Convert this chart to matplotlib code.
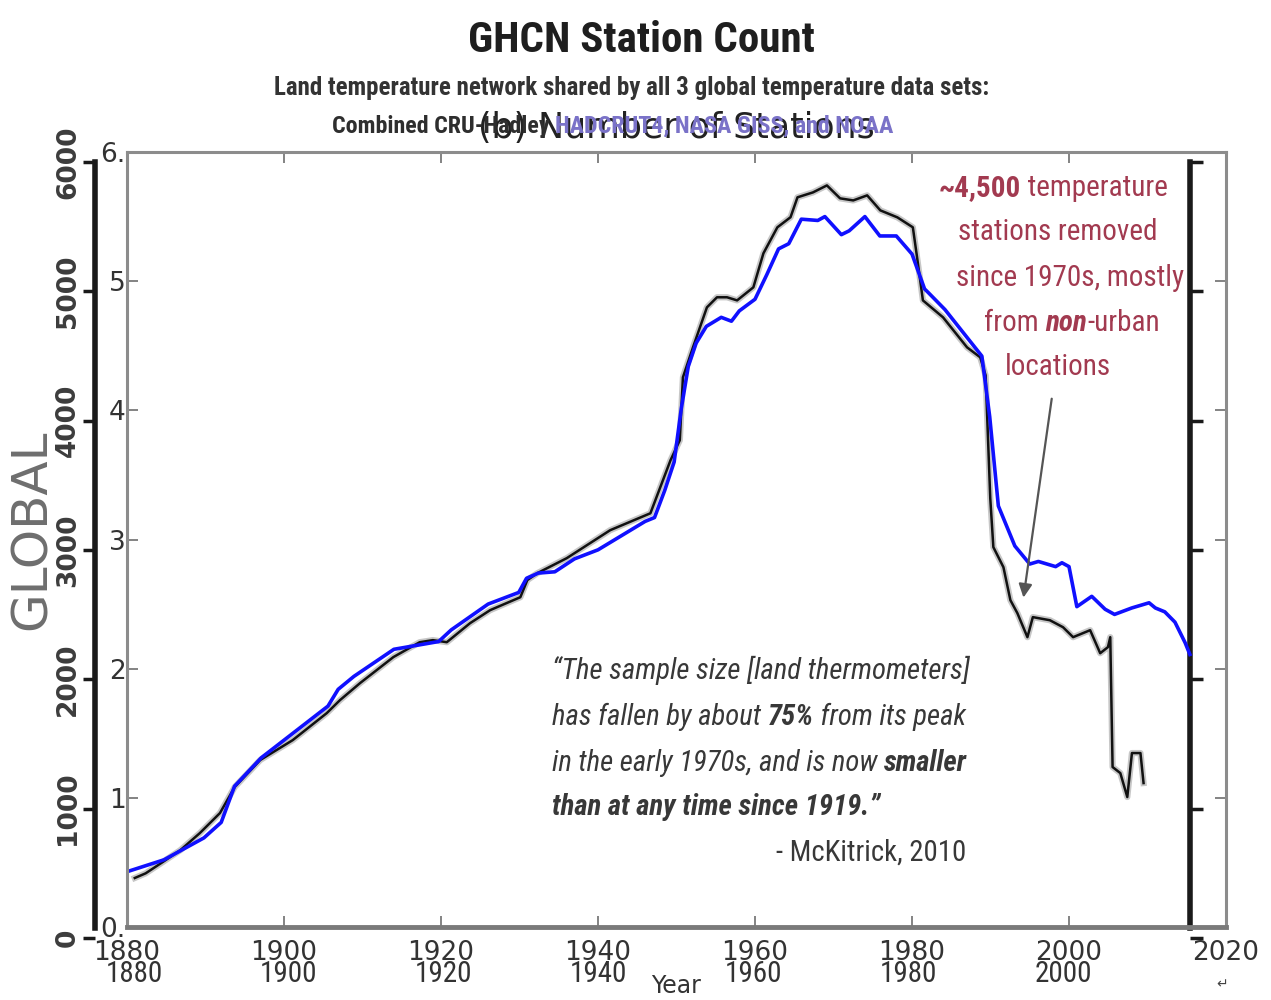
import matplotlib
matplotlib.use("Agg")
import matplotlib.pyplot as plt
from matplotlib import font_manager as fm
from matplotlib.font_manager import FontProperties

# ---------------- data ----------------
# black series: original GHCN station count (left "GLOBAL" axis, 0-6000)
black_years = [1880.1, 1881.5, 1883.7, 1886.0, 1888.5, 1891.1, 1893.0, 1896.3, 1900.5, 1904.9,
               1906.6, 1909.2, 1913.5, 1916.9, 1918.6, 1920.4, 1923.4, 1926.0, 1929.9, 1930.8,
               1932.1, 1935.9, 1941.5, 1946.7, 1949.3, 1950.5, 1950.9, 1952.2, 1954.0, 1955.3,
               1956.6, 1957.9, 1960.0, 1961.3, 1963.1, 1964.8, 1965.7, 1967.7, 1969.5, 1971.2,
               1972.9, 1974.7, 1976.4, 1978.6, 1980.6, 1981.2, 1981.9, 1984.5, 1987.6, 1989.3,
               1990.0, 1990.6, 1991.0, 1992.3, 1993.2, 1994.1, 1995.4, 1996.1, 1998.3, 2000.0,
               2001.3, 2003.5, 2004.8, 2005.8, 2006.1, 2006.4, 2007.4, 2008.3, 2008.9, 2010.0,
               2010.4]
black_counts = [464, 500, 587, 680, 811, 966, 1167, 1376, 1530, 1739,
                1839, 1971, 2172, 2287, 2303, 2287, 2434, 2535, 2635, 2767,
                2821, 2937, 3153, 3284, 3694, 3849, 4335, 4567, 4876, 4954,
                4954, 4930, 5031, 5294, 5495, 5573, 5727, 5765, 5819, 5719,
                5703, 5742, 5626, 5572, 5495, 5240, 4930, 4799, 4567, 4490,
                4350, 3400, 3022, 2867, 2612, 2512, 2326, 2481, 2457, 2403,
                2326, 2380, 2202, 2249, 2326, 1322, 1275, 1090, 1430, 1430,
                1198]

# blue series: number of stations (thousands), overlay panel (b)
blue_years = [1880.1, 1884.7, 1889.8, 1892.0, 1893.7, 1897.1, 1900.5, 1905.6, 1906.9, 1908.9,
              1914.0, 1919.7, 1921.3, 1926.0, 1929.9, 1930.9, 1932.4, 1934.5, 1937.0, 1940.0,
              1943.0, 1946.0, 1947.2, 1948.5, 1949.7, 1950.6, 1951.5, 1952.5, 1953.8, 1955.7,
              1957.0, 1958.0, 1960.0, 1961.5, 1963.0, 1964.3, 1965.9, 1968.0, 1968.9, 1971.0,
              1972.0, 1974.0, 1975.9, 1978.0, 1980.0, 1981.6, 1982.1, 1984.2, 1987.2, 1988.9,
              1989.9, 1991.0, 1993.1, 1995.0, 1996.1, 1998.3, 1999.1, 2000.0, 2001.0, 2002.9,
              2004.6, 2005.8, 2008.0, 2010.2, 2011.0, 2012.2, 2013.5, 2014.8, 2015.4]
blue_thousands = [0.43, 0.52, 0.69, 0.81, 1.09, 1.31, 1.47, 1.71, 1.84, 1.94,
                  2.15, 2.21, 2.30, 2.50, 2.59, 2.70, 2.74, 2.75, 2.85, 2.92,
                  3.03, 3.14, 3.17, 3.38, 3.60, 4.01, 4.34, 4.52, 4.65, 4.72,
                  4.69, 4.77, 4.86, 5.05, 5.25, 5.29, 5.48, 5.47, 5.50, 5.36,
                  5.39, 5.50, 5.35, 5.35, 5.21, 4.94, 4.91, 4.78, 4.55, 4.42,
                  3.95, 3.26, 2.95, 2.81, 2.83, 2.79, 2.82, 2.79, 2.48, 2.56,
                  2.46, 2.42, 2.47, 2.51, 2.47, 2.44, 2.36, 2.20, 2.11]

outer_yticks = [0, 1000, 2000, 3000, 4000, 5000, 6000]
outer_xticks = [1880, 1900, 1920, 1940, 1960, 1980, 2000]
inner_xticks = [1880, 1900, 1920, 1940, 1960, 1980, 2000, 2020]
inner_yticks = [0, 1, 2, 3, 4, 5, 6]
inner_ylabels = ["0.", "1", "2", "3", "4", "5", "6."]

# ---------------- fonts: look for a condensed face ----------------
plt.rcParams["font.family"] = ["DejaVu Sans"]
cond = {}
pref = ["Roboto Condensed", "Open Sans Condensed", "Liberation Sans Narrow", "DejaVu Sans Condensed"]
for fam in pref:
    for f in fm.fontManager.ttflist:
        is_fam = (f.name == fam) or (fam == "DejaVu Sans Condensed" and f.name == "DejaVu Sans"
                                     and "Condensed" in f.fname)
        if not is_fam:
            continue
        w = f.weight if isinstance(f.weight, int) else (700 if "bold" in str(f.weight) else 400)
        bold = w >= 600
        ital = f.style in ("italic", "oblique")
        if w in (300, 500, 800, 900, 100, 200):
            continue
        cond.setdefault((bold, ital), f.fname)
    if (False, False) in cond:
        break
    cond = {}

if cond:
    K = 1.0

    def FP(bold=False, ital=False, size=12):
        key = (bold, ital)
        for k in [key, (bold, False), (False, ital), (False, False)]:
            if k in cond:
                return FontProperties(fname=cond[k], size=size)
else:
    K = 0.82

    def FP(bold=False, ital=False, size=12):
        return FontProperties(family="Liberation Sans", weight="bold" if bold else "normal",
                              style="italic" if ital else "normal", size=size)

W, H = 1271, 1000
fig = plt.figure(figsize=(W / 100, H / 100), dpi=100)
fig.patch.set_facecolor("white")


def rect(l, t, r, b):
    return [l / W, 1 - b / H, (r - l) / W, (b - t) / H]


def fx(x):
    return x / W


def fy(y):
    return 1 - y / H


# ---------------- outer (original GHCN) axes ----------------
ax0 = fig.add_axes(rect(95, 162, 1190, 938))
ax0.set_xlim(1874.96, 2016.4)
ax0.set_ylim(0, 6000)
ax0.plot(black_years, black_counts, color="#9a9a9a", lw=4.5, alpha=0.55, solid_joinstyle="round")
ax0.plot(black_years, black_counts, color="#111111", lw=1.8, solid_joinstyle="round")
for s in ["top", "bottom"]:
    ax0.spines[s].set_visible(False)
for s in ["left", "right"]:
    ax0.spines[s].set_linewidth(4)
    ax0.spines[s].set_color("#1a1a1a")
    ax0.spines[s].set_bounds(80, 6000)
ax0.set_yticks(outer_yticks)
ax0.set_yticklabels([str(v) for v in outer_yticks], rotation=90, va="center",
                    fontsize=19, fontweight="bold", color="#3c3c3c")
ax0.tick_params(axis="y", direction="out", length=9, width=2.5, color="#1a1a1a",
                right=True, labelright=False, pad=1)
ax0.set_xticks(outer_xticks)
ax0.set_xticklabels([str(v) for v in outer_xticks], fontproperties=FP(size=21 * K), color="#333333")
ax0.tick_params(axis="x", length=0, pad=16)
ax0.set_facecolor("white")

# ---------------- inner (overlay) axes ----------------
ax1 = fig.add_axes(rect(127, 152, 1226, 927))
ax1.set_facecolor("none")
ax1.set_xlim(1880, 2020)
ax1.set_ylim(0, 6)
ax1.plot(blue_years, blue_thousands, color="#1010ff", lw=2.6, solid_joinstyle="round")
for s in ax1.spines.values():
    s.set_color("#8c8c8c")
    s.set_linewidth(2.2)
ax1.spines["bottom"].set_linewidth(3.5)
ax1.spines["bottom"].set_color("#7a7a7a")
ax1.set_xticks(inner_xticks)
ax1.set_xticklabels([str(v) for v in inner_xticks], fontsize=19, color="#333333")
ax1.set_yticks(inner_yticks)
ax1.set_yticklabels(inner_ylabels, fontsize=19, color="#333333")
ax1.tick_params(direction="in", length=8, width=1.3, color="#7a7a7a",
                top=True, right=True)
ax1.tick_params(axis="y", pad=1)
ax1.tick_params(axis="x", pad=9)
ax1.set_xlabel("Year", fontsize=17, color="#333333", labelpad=6)
ax1.set_title("(b) Number of Stations", fontsize=25, color="#222222", pad=10)

# arrow pointing at the post-1990 drop
ax1.annotate("", xy=(1994.2, 2.55), xytext=(1997.8, 4.09),
             arrowprops=dict(arrowstyle="-|>", color="#555555", lw=1.6,
                             mutation_scale=20, shrinkA=0, shrinkB=0))

# ---------------- header text ----------------
fig.text(fx(641), fy(40), "GHCN Station Count", ha="center", va="center",
         fontproperties=FP(bold=True, size=31 if K == 1.0 else 26), color="#1e1e1e")
fig.text(fx(632), fy(88), "Land temperature network shared by all 3 global temperature data sets:",
         ha="center", va="center", fontproperties=FP(bold=True, size=18 * K), color="#333333")

fig.text(fx(32), fy(530), "GLOBAL", rotation=90, ha="center", va="center",
         fontsize=36, color="#6e6e6e")
fig.text(fx(1222), fy(984), "\u21b5", ha="center", va="center", fontsize=10, color="#444444")

renderer = fig.canvas.get_renderer()


def rich_line(parts, x, y, ha="left", size=20, color="#333333", zorder=3):
    """Place several differently styled pieces of text side by side (pixel coords)."""
    texts = []
    for s, (b, i), c in parts:
        t = fig.text(0, 0, s, fontproperties=FP(b, i, size * K), color=c or color,
                     va="baseline", zorder=zorder)
        texts.append(t)
    widths = [t.get_window_extent(renderer).width for t in texts]
    total = sum(widths)
    if ha == "center":
        x0 = x - total / 2
    elif ha == "right":
        x0 = x - total
    else:
        x0 = x
    for t, w in zip(texts, widths):
        t.set_position((fx(x0), fy(y)))
        x0 += w
    return texts


N = (False, False)
B = (True, False)
I = (False, True)
BI = (True, True)

# third header line (partly hidden under the panel title)
rich_line([("Combined CRU-Hadley ", B, "#2e2e2e"), ("HADCRUT4, NASA GISS, and NOAA", B, "#7a72c8")],
          613, 133, ha="center", size=17.3, zorder=1)

# red annotation
red = "#a23a50"
rs = 21
rich_line([("~4,500", B, None), (" temperature", N, None)], 1053, 196, ha="center", size=rs, color=red)
rich_line([("stations removed", N, None)], 1058, 240, ha="center", size=rs, color=red)
rich_line([("since 1970s, mostly", N, None)], 1070, 286, ha="center", size=rs, color=red)
rich_line([("from ", N, None), ("non", BI, None), ("-urban", N, None)], 1072, 331, ha="center",
          size=rs, color=red)
rich_line([("locations", N, None)], 1058, 375, ha="center", size=rs, color=red)

# quote
qc = "#383838"
qs = 20.7
rich_line([("\u201cThe sample size [land thermometers]", I, None)], 552, 679, size=qs, color=qc)
rich_line([("has fallen by about ", I, None), ("75%", BI, None), (" from its peak", I, None)],
          552, 725, size=qs, color=qc)
rich_line([("in the early 1970s, and is now ", I, None), ("smaller", BI, None)], 552, 771,
          size=qs, color=qc)
rich_line([("than at any time since 1919.\u201d", BI, None)], 552, 815, size=qs, color=qc)
rich_line([("- McKitrick, 2010", N, None)], 966, 861, ha="right", size=qs, color=qc)

fig.savefig("out.png", dpi=100, facecolor="white")
